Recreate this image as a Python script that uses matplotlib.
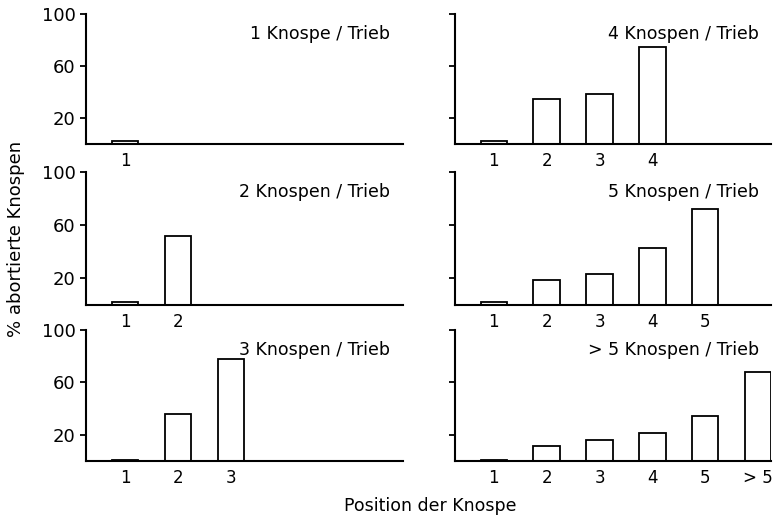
import matplotlib.pyplot as plt

# Knospen-Positionen und Abortrate (%) je Trieb-Typ
titles = ["1 Knospe / Trieb", "4 Knospen / Trieb",
          "2 Knospen / Trieb", "5 Knospen / Trieb",
          "3 Knospen / Trieb", "> 5 Knospen / Trieb"]
labels_1 = ["1"]
values_1 = [2]
labels_2 = ["1", "2"]
values_2 = [2, 52]
labels_3 = ["1", "2", "3"]
values_3 = [1, 36, 78]
labels_4 = ["1", "2", "3", "4"]
values_4 = [2, 34.5, 38.5, 74.5]
labels_5 = ["1", "2", "3", "4", "5"]
values_5 = [2, 19, 23, 42.5, 72.5]
labels_6 = ["1", "2", "3", "4", "5", "> 5"]
values_6 = [1, 11.5, 16, 21.5, 34.5, 68]

data = [(labels_1, values_1), (labels_4, values_4),
        (labels_2, values_2), (labels_5, values_5),
        (labels_3, values_3), (labels_6, values_6)]

plt.rcParams['font.family'] = ['DejaVu Sans']
plt.rcParams['font.size'] = 12

fig = plt.figure(figsize=(7.76, 5.2), dpi=100)

lefts = [0.111, 0.586]
rows = [(0.723, 0.25), (0.4135, 0.2558), (0.1135, 0.252)]

for i, (labs, vals) in enumerate(data):
    r, c = divmod(i, 2)
    ax = fig.add_axes([lefts[c], rows[r][0], 0.408, rows[r][1]])
    pos = list(range(1, len(vals) + 1))
    ax.bar(pos, vals, width=0.5, color="white", edgecolor="black", linewidth=1.3)
    ax.set_xlim(0.26, 6.25)
    ax.set_ylim(0, 100)
    ax.set_xticks(pos)
    ax.set_xticklabels(labs)
    ax.tick_params(axis="x", length=0, pad=6, labelsize=12)
    ax.set_yticks([20, 60, 100])
    ax.tick_params(axis="y", direction="out", length=4, width=1.3, labelsize=13)
    if c == 1:
        ax.set_yticklabels([])
    for s in ["top", "right"]:
        ax.spines[s].set_visible(False)
    for s in ["left", "bottom"]:
        ax.spines[s].set_linewidth(1.5)
    ax.text(0.96, 0.85, titles[i], transform=ax.transAxes, ha="right",
            va="center", fontsize=12.5)

fig.text(0.02, 0.54, "% abortierte Knospen", rotation=90, ha="center",
         va="center", fontsize=13)
fig.text(0.555, 0.027, "Position der Knospe", ha="center", va="center",
         fontsize=12.5)

fig.savefig("out.png", dpi=100)
